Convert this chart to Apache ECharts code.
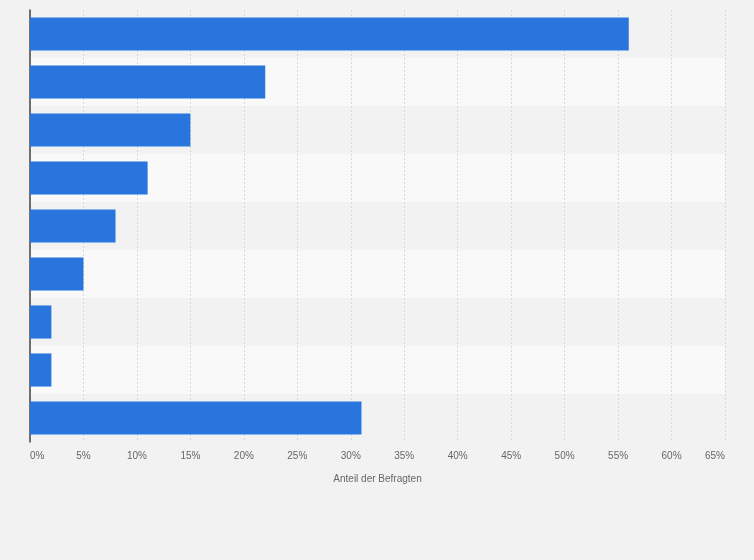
<!DOCTYPE html>
<html>
<head>
<meta charset="utf-8">
<style>
  html, body { margin: 0; padding: 0; background: #f2f2f2; }
  #chart { width: 754px; height: 560px; }
</style>
<script src="https://cdn.jsdelivr.net/npm/echarts@6/dist/echarts.min.js"></script>
</head>
<body>
<div id="chart"></div>
<script>
// categories carry no visible labels in the source
const categories = ['A', 'B', 'C', 'D', 'E', 'F', 'G', 'H', 'I'];
const shares = [56, 22, 15, 11, 8, 5, 2, 2, 31];
const xTicks = { min: 0, max: 65, step: 5 };
const axisName = 'Anteil der Befragten';

const chart = echarts.init(document.getElementById('chart'));

chart.setOption({
  backgroundColor: '#f2f2f2',
  animation: false,
  grid: { left: 30, right: 29, top: 10, bottom: 118 },
  xAxis: {
    type: 'value',
    min: xTicks.min,
    max: xTicks.max,
    interval: xTicks.step,
    name: axisName,
    nameLocation: 'middle',
    nameGap: 32,
    nameTextStyle: { color: '#666', fontSize: 10, fontFamily: 'Liberation Sans' },
    axisLine: { show: false },
    axisTick: { show: false },
    axisLabel: {
      color: '#666',
      fontSize: 10,
      fontFamily: 'Liberation Sans',
      margin: 9,
      alignMinLabel: 'left',
      alignMaxLabel: 'right',
      formatter: '{value}%'
    },
    splitLine: { lineStyle: { color: '#d8d8d8', type: [2, 2] } }
  },
  yAxis: {
    type: 'category',
    data: categories,
    inverse: true,
    axisLine: { show: true, lineStyle: { color: '#444', width: 1.5 } },
    axisTick: { show: false },
    axisLabel: { show: false },
    splitArea: { show: true, areaStyle: { color: ['#f2f2f2', '#f9f9f9'] } }
  },
  series: [{
    type: 'bar',
    data: shares,
    barCategoryGap: '31%',
    itemStyle: { color: '#2876dd' }
  }]
});
</script>
</body>
</html>
